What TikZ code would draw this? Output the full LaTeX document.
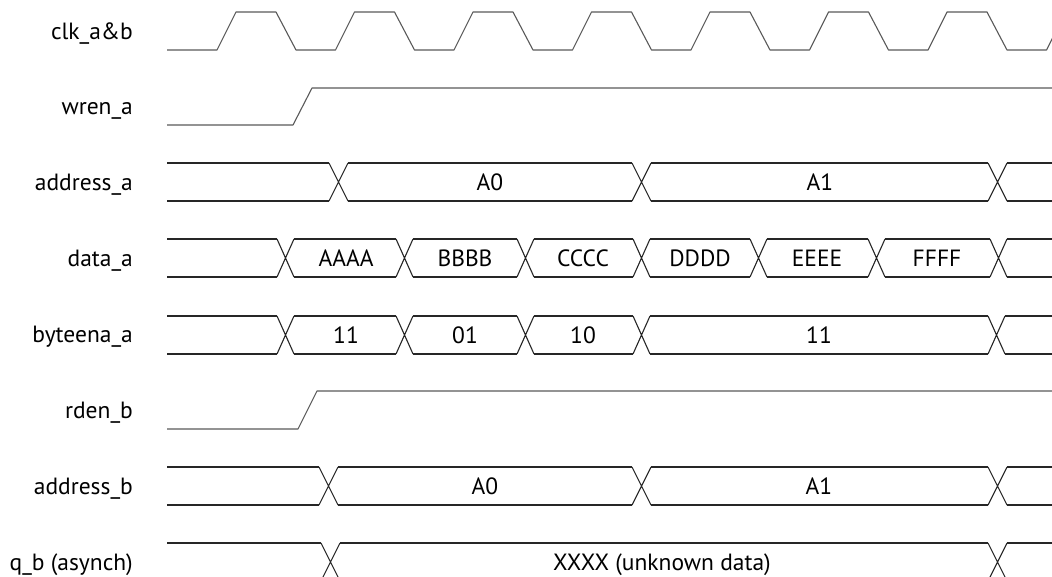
\documentclass[tikz,border=0pt]{standalone}
\usepackage{fontspec}
\setmainfont{PT Sans}
\usetikzlibrary{positioning}
% bus row: [transition width]{top y}{transition x list}
\newcommand*{\bus}[3][19]{%
  \foreach \tx [remember=\tx as \prev (initially 167-#1)] in {#3,1052}{%
    \draw[busline] (\prev+#1,#2) -- (\tx,#2) (\prev+#1,#2+38) -- (\tx,#2+38);
  }
  \foreach \tx in {#3}{%
    \draw[busline] (\tx,#2) -- ++(#1,38) (\tx,#2+38) -- ++(#1,-38);
  }
}

\begin{document}
\begin{tikzpicture}[x=1pt, y=-1pt,
    sigline/.style = {draw=black!65, line width=1.1pt, line join=round},
    busline/.style = {draw=black!85, line width=1.1pt, line join=round},
    signame/.style = {anchor=base east, inner sep=0pt, font=\fontsize{23.5}{28}\selectfont},
    busval/.style  = {anchor=base, inner sep=0pt, font=\fontsize{23.5}{28}\selectfont}]
  \useasboundingbox (0,0) rectangle (1052,576);

  % signal names
  \node[signame] (clk)   at (133,39)    {clk\_a\&b};
  \node[signame] (wren)  at (133,114.5) {wren\_a};
  \node[signame] (addra) at (133,190.5) {address\_a};
  \node[signame] (dataa) at (133,266)   {data\_a};
  \node[signame] (bytea) at (133,342.5) {byteena\_a};
  \node[signame] (rden)  at (133,418)   {rden\_b};
  \node[signame] (addrb) at (133,494)   {address\_b};
  \node[signame] (qb)    at (133,570)   {q\_b (asynch)};

  % clock
  \draw[sigline] (167,50) \foreach \k in {0,...,7}{
    -- (217+118.5*\k,50) -- ++(19,-38) -- ++(40,0) -- ++(20,38) };

  % enables
  \draw[sigline] (167,125) -- (293,125) -- (312,88) -- (1052,88);
  \draw[sigline] (167,429) -- (298,429) -- (317,391) -- (1052,391);

  % buses
  \bus{163}{329,632,988}
  \bus[17]{239}{277,396,517,633,750,868,990}
  \bus[17]{316}{277,396,517,633,988}
  \bus{467}{319,632,988}
  \bus{543}{321,988}

  % bus values
  \foreach \x/\v/\n in {490/A0/aa0, 820/A1/aa1}
    \node[busval] (\n) at (\x,190) {\v};
  \foreach \x/\v/\n in {346/AAAA/da0, 465/BBBB/da1, 583/CCCC/da2,
                        700/DDDD/da3, 817/EEEE/da4, 937/FFFF/da5}
    \node[busval] (\n) at (\x,266) {\v};
  \foreach \x/\v/\n in {346/11/be0, 465/01/be1, 583/10/be2, 819/11/be3}
    \node[busval] (\n) at (\x,343) {\v};
  \foreach \x/\v/\n in {485/A0/ab0, 819/A1/ab1}
    \node[busval] (\n) at (\x,494) {\v};
  \node[busval] (qbx) at (662,570) {XXXX (unknown data)};
\end{tikzpicture}
\end{document}
